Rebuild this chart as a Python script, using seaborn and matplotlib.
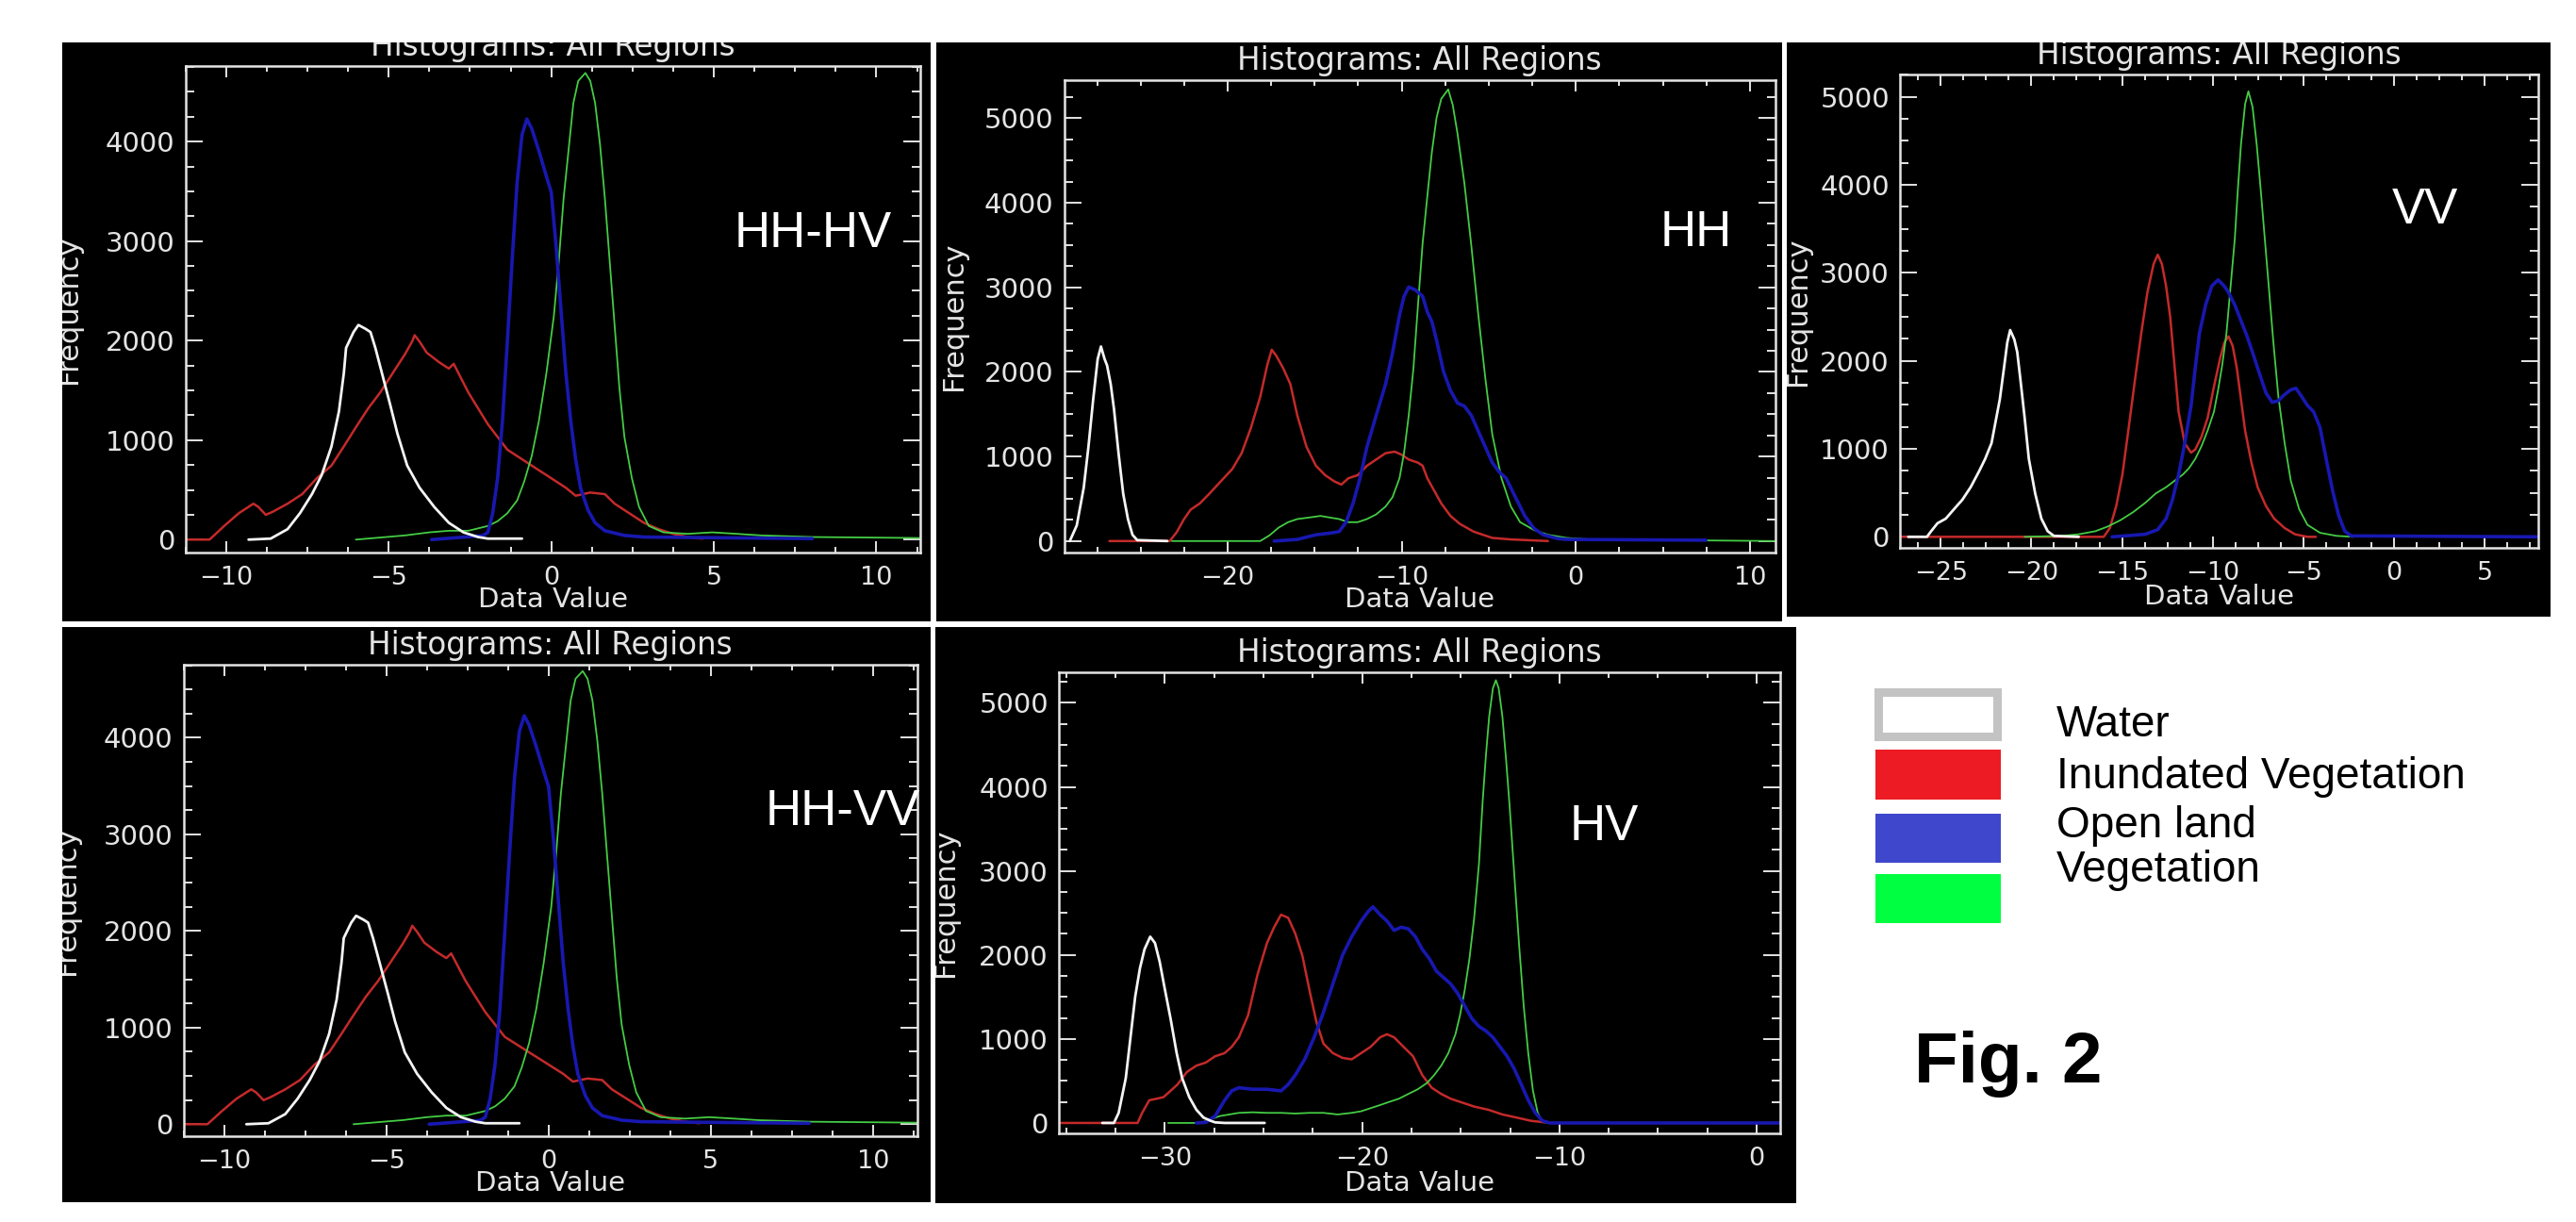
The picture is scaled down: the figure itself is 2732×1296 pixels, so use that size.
import matplotlib
matplotlib.use("Agg")
import matplotlib.pyplot as plt
from matplotlib.patches import Rectangle
from matplotlib.ticker import MultipleLocator, AutoMinorLocator
import seaborn as sns

# ---- values ----
classes = ["Water", "Inundated Vegetation", "Open land", "Vegetation"]
title_text = "Histograms: All Regions"

# HH-HV  (the HH-VV panel shows the very same histograms)
hhhv_water_x = [-9.31, -8.63, -8.11, -7.73, -7.36, -7.06, -6.76, -6.53, -6.38, -6.31, -6.08, -5.93, -5.71,
                -5.56, -5.41, -5.18, -4.95, -4.73, -4.43, -4.05, -3.60, -3.15, -2.70, -2.25, -1.95, -0.90]
hhhv_water_y = [0, 10, 105, 265, 457, 649, 936, 1288, 1671, 1927, 2086, 2157, 2118,
                2086, 1927, 1639, 1351, 1064, 744, 521, 329, 169, 73, 26, 10, 10]
hhhv_inund_x = [-11.25, -10.51, -10.06, -9.61, -9.16, -9.01, -8.78, -8.56, -8.11, -7.66, -7.21, -6.76, -6.38,
                -6.01, -5.63, -5.26, -4.88, -4.50, -4.28, -4.20, -4.05, -3.83, -3.45, -3.15, -3.00, -2.85,
                -2.55, -2.25, -1.95, -1.65, -1.35, -0.90, -0.45, 0.0, 0.45, 0.75, 1.20, 1.65, 1.95, 2.40,
                2.85, 3.30, 3.75, 4.20, 4.65]
hhhv_inund_y = [0, 0, 137, 265, 361, 329, 249, 281, 361, 457, 617, 744, 936,
                1128, 1319, 1479, 1671, 1863, 1990, 2054, 1990, 1879, 1783, 1719, 1767, 1671,
                1479, 1319, 1160, 1032, 904, 808, 712, 617, 521, 441, 473, 457, 361, 265,
                169, 105, 58, 26, 10]
hhhv_open_x = [-3.68, -2.10, -1.95, -1.80, -1.65, -1.50, -1.35, -1.20, -1.05, -0.90, -0.75, -0.60, -0.38,
               -0.15, 0.0, 0.15, 0.30, 0.45, 0.60, 0.75, 0.90, 1.13, 1.35, 1.65, 2.25, 2.85, 8.03]
hhhv_open_y = [0, 40, 73, 265, 617, 1192, 1990, 2821, 3588, 4067, 4227, 4131, 3907,
               3652, 3492, 2949, 2310, 1671, 1192, 808, 521, 297, 169, 89, 42, 26, 10]
hhhv_veg_x = [-6.01, -4.50, -3.75, -3.15, -2.55, -1.95, -1.65, -1.35, -1.05, -0.83, -0.60, -0.38, -0.15,
              0.08, 0.23, 0.38, 0.53, 0.68, 0.83, 1.05, 1.20, 1.35, 1.50, 1.65, 1.80, 1.95, 2.10, 2.25,
              2.48, 2.70, 3.00, 3.45, 4.20, 4.95, 5.71, 6.46, 8.03, 11.35]
hhhv_veg_y = [0, 42, 73, 89, 89, 137, 185, 265, 393, 585, 840, 1192, 1671,
              2246, 2789, 3428, 3907, 4387, 4610, 4690, 4610, 4387, 3971, 3428, 2789, 2150, 1511, 1032,
              617, 329, 137, 73, 58, 73, 58, 42, 26, 16]

# HH
hh_water_x = [-29.07, -28.67, -28.27, -28.0, -27.73, -27.47, -27.28, -27.07, -26.93, -26.72, -26.53,
              -26.27, -26.0, -25.73, -25.47, -25.2, -23.47]
hh_water_y = [0, 185, 631, 1113, 1669, 2151, 2300, 2151, 2077, 1855, 1558, 1039, 556, 260, 74, 11, 0]
hh_inund_x = [-26.8, -23.33, -22.93, -22.53, -22.13, -21.6, -21.07, -20.4, -19.73, -19.2, -18.67, -18.13,
              -17.73, -17.47, -17.2, -16.8, -16.4, -16.0, -15.47, -14.93, -14.4, -13.87, -13.47, -13.07,
              -12.53, -12.0, -11.47, -10.93, -10.4, -10.0, -9.6, -9.07, -8.8, -8.53, -8.13, -7.73, -7.2,
              -6.67, -5.87, -4.8, -3.73, -1.6]
hh_inund_y = [0, 0, 104, 252, 371, 445, 556, 705, 853, 1039, 1335, 1706,
              2077, 2263, 2188, 2040, 1855, 1484, 1113, 890, 779, 705, 668, 742,
              779, 890, 964, 1039, 1057, 1020, 964, 927, 890, 742, 593, 445, 297,
              204, 111, 37, 19, 0]
hh_open_x = [-17.33, -16.0, -14.93, -14.13, -13.6, -13.2, -12.8, -12.4, -12.0, -11.47, -10.93, -10.53,
             -10.13, -9.87, -9.6, -9.2, -8.8, -8.53, -8.27, -8.0, -7.6, -7.2, -6.8, -6.4, -6.0, -5.6,
             -5.2, -4.8, -4.4, -4.0, -3.47, -2.93, -2.4, -1.87, -1.07, -0.53, 7.47]
hh_open_y = [0, 19, 74, 93, 111, 223, 445, 742, 1113, 1484, 1855, 2226,
             2671, 2893, 3004, 2967, 2893, 2708, 2596, 2374, 2003, 1780, 1632, 1595, 1484, 1298,
             1113, 927, 816, 742, 519, 297, 148, 74, 30, 19, 10]
hh_veg_x = [-23.2, -18.13, -17.6, -17.07, -16.53, -16.0, -15.33, -14.67, -14.13, -13.6, -13.07, -12.53,
            -12.0, -11.47, -10.93, -10.53, -10.13, -9.87, -9.6, -9.33, -9.07, -8.8, -8.53, -8.27, -8.0,
            -7.73, -7.33, -7.07, -6.8, -6.4, -6.0, -5.6, -5.2, -4.8, -4.27, -3.73, -3.2, -2.4, -1.6,
            -0.53, 0.8, 11.47]
hh_veg_y = [0, 0, 67, 159, 223, 260, 278, 297, 278, 260, 223, 223,
            260, 315, 408, 519, 742, 1039, 1484, 2040, 2782, 3524, 4080, 4599, 5007,
            5230, 5341, 5156, 4822, 4228, 3487, 2671, 1929, 1261, 742, 408, 223, 130, 74,
            37, 19, 0]

# VV
vv_water_x = [-26.79, -25.76, -25.53, -25.18, -24.72, -24.27, -23.81, -23.35, -22.89, -22.55, -22.2,
              -21.97, -21.74, -21.51, -21.33, -21.17, -20.94, -20.78, -20.6, -20.37, -20.14, -19.79,
              -19.45, -19.1, -18.76, -17.39]
vv_water_y = [0, 0, 64, 154, 207, 314, 421, 564, 743, 886, 1064,
              1314, 1564, 1921, 2207, 2350, 2243, 2100, 1779, 1350, 886, 493,
              207, 64, 11, 0]
vv_inund_x = [-27.25, -16.01, -15.67, -15.32, -14.98, -14.63, -14.29, -13.94, -13.6, -13.26, -13.03,
              -12.8, -12.57, -12.34, -12.11, -11.88, -11.54, -11.19, -10.96, -10.62, -10.28, -9.93,
              -9.59, -9.36, -9.13, -8.9, -8.67, -8.44, -8.21, -7.87, -7.52, -7.06, -6.61, -6.03, -5.46,
              -4.77, -4.31]
vv_inund_y = [0, 0, 100, 350, 707, 1243, 1779, 2314, 2779, 3100, 3207,
              3100, 2850, 2493, 1957, 1421, 1064, 957, 993, 1136, 1350, 1707,
              2029, 2207, 2279, 2171, 1921, 1564, 1207, 850, 564, 350, 207, 100, 29,
              0, 0]
vv_open_x = [-15.55, -13.72, -13.03, -12.57, -12.22, -11.88, -11.54, -11.19, -10.96, -10.73, -10.39,
             -10.05, -9.7, -9.36, -9.13, -8.78, -8.44, -8.1, -7.75, -7.41, -7.06, -6.72, -6.38, -6.03,
             -5.69, -5.41, -5.11, -4.77, -4.43, -4.08, -3.74, -3.39, -3.05, -2.71, -2.36, 7.96]
vv_open_y = [0, 29, 82, 207, 421, 707, 1064, 1493, 1921, 2314, 2636,
             2850, 2921, 2850, 2779, 2636, 2457, 2279, 2064, 1850, 1636, 1529, 1546, 1618,
             1671, 1689, 1600, 1493, 1421, 1243, 886, 529, 243, 64, 11, 0]
vv_veg_x = [-20.37, -18.3, -17.39, -16.47, -15.78, -15.09, -14.4, -13.72, -13.14, -12.57, -12.11,
            -11.65, -11.31, -10.96, -10.62, -10.28, -9.93, -9.7, -9.47, -9.24, -9.01, -8.78, -8.62,
            -8.44, -8.21, -8.03, -7.8, -7.57, -7.34, -7.11, -6.88, -6.65, -6.38, -6.03, -5.69, -5.23,
            -4.77, -4.08, -3.17, -2.25]
vv_veg_y = [0, 11, 29, 64, 118, 189, 279, 386, 493, 564, 636,
            707, 779, 886, 1029, 1207, 1421, 1671, 1957, 2314, 2850, 3386, 3921,
            4457, 4921, 5064, 4886, 4457, 3921, 3350, 2779, 2207, 1600, 1064, 636, 314,
            136, 46, 11, 0]

# HV
hv_water_x = [-33.17, -32.58, -32.34, -31.98, -31.74, -31.5, -31.26, -31.03, -30.74, -30.5, -30.26,
              -30.02, -29.71, -29.4, -29.12, -28.76, -28.4, -28.04, -27.68, -27.45, -26.97, -24.94]
hv_water_y = [0, 0, 120, 532, 1019, 1506, 1843, 2067, 2217, 2142, 1918,
              1618, 1243, 831, 532, 307, 157, 64, 26, 7, 0, 0]
hv_inund_x = [-35.3, -31.38, -31.15, -30.79, -30.43, -30.07, -29.71, -29.36, -28.88, -28.4, -27.92,
              -27.45, -26.97, -26.61, -26.25, -25.78, -25.3, -24.82, -24.46, -24.11, -23.75, -23.39,
              -23.03, -22.67, -22.32, -21.96, -21.48, -21.0, -20.53, -20.05, -19.57, -19.09, -18.74,
              -18.38, -17.9, -17.42, -16.95, -16.47, -15.99, -15.51, -15.04, -14.32, -13.6, -12.89,
              -12.17, -11.46, -10.74, -10.5]
hv_inund_y = [0, 0, 120, 270, 288, 307, 382, 457, 607, 682, 719,
              794, 831, 906, 1019, 1281, 1768, 2142, 2330, 2479, 2442, 2255,
              1993, 1581, 1206, 944, 831, 775, 757, 831, 906, 1019, 1056,
              1019, 906, 794, 569, 419, 345, 288, 251, 195, 157, 101,
              64, 26, 7, 0]
hv_open_x = [-28.4, -27.92, -27.45, -26.97, -26.61, -26.25, -25.54, -24.82, -24.11, -23.75, -23.39,
             -22.91, -22.43, -21.96, -21.48, -21.0, -20.53, -20.05, -19.69, -19.45, -19.09, -18.74,
             -18.38, -18.02, -17.66, -17.3, -16.95, -16.59, -16.23, -15.87, -15.51, -15.16, -14.8,
             -14.44, -14.08, -13.72, -13.37, -13.01, -12.65, -12.29, -11.93, -11.58, -11.22, -10.86,
             -10.5, 1.19]
hv_open_y = [0, 7, 82, 270, 382, 419, 401, 401, 382, 457, 569,
             757, 1019, 1318, 1655, 1993, 2217, 2404, 2517, 2573, 2479, 2404,
             2292, 2330, 2311, 2217, 2067, 1955, 1805, 1730, 1655, 1543, 1393,
             1243, 1150, 1094, 1019, 906, 794, 644, 457, 270, 120, 26,
             0, 0]
hv_veg_x = [-29.83, -28.16, -27.68, -27.21, -26.73, -26.25, -25.54, -24.82, -24.11, -23.39, -22.67,
            -21.96, -21.24, -20.53, -20.05, -19.57, -19.09, -18.62, -18.14, -17.66, -17.18, -16.71,
            -16.35, -15.99, -15.63, -15.27, -15.04, -14.8, -14.56, -14.32, -14.08, -13.89, -13.72,
            -13.56, -13.37, -13.22, -13.08, -12.89, -12.7, -12.53, -12.29, -12.05, -11.81, -11.58,
            -11.34, -11.1, -10.86, -10.5]
hv_veg_y = [0, 0, 45, 82, 101, 120, 127, 120, 120, 112, 120,
            120, 101, 120, 139, 176, 213, 251, 288, 345, 401, 476,
            569, 682, 831, 1056, 1281, 1581, 1955, 2442, 3079, 3828, 4390,
            4839, 5176, 5270, 5176, 4839, 4315, 3790, 2966, 2142, 1393, 831,
            382, 120, 15, 0]

# ---- figure ----
W, H = 2732, 1296
sns.set_style("ticks")
plt.rcParams["font.family"] = ["DejaVu Sans"]

fig = plt.figure(figsize=(W / 100, H / 100), dpi=100, facecolor="white")

fg = "#e4e4e4"
line_col = {"Water": "#f4f4f4", "Inundated Vegetation": "#c42a2a",
            "Open land": "#1818b0", "Vegetation": "#44cc44"}
line_w = {"Water": 2.0, "Inundated Vegetation": 1.8, "Open land": 2.6, "Vegetation": 1.3}
draw_order = ["Inundated Vegetation", "Vegetation", "Open land", "Water"]


def fig_rect(x0, y0, x1, y1):
    # pixel box (y from top) -> figure fraction
    return (x0 / W, 1 - y1 / H, (x1 - x0) / W, (y1 - y0) / H)


def draw_panel(bg, box, xlim, ylim, xstep, curves, tag, tag_xy, ylab_off, xlab_off):
    r = fig_rect(*bg)
    back = Rectangle(r[:2], r[2], r[3], transform=fig.transFigure,
                     facecolor="black", edgecolor="none", zorder=-1)
    fig.add_artist(back)

    ax = fig.add_axes(fig_rect(*box))
    ax.set_facecolor("black")
    for name in draw_order:
        xs, ys = curves[name]
        sns.lineplot(x=xs, y=ys, ax=ax, color=line_col[name], linewidth=line_w[name],
                     estimator=None, sort=False)
    ax.set_xlim(*xlim)
    ax.set_ylim(*ylim)

    ax.xaxis.set_major_locator(MultipleLocator(xstep))
    ax.xaxis.set_minor_locator(AutoMinorLocator(4))
    ax.yaxis.set_major_locator(MultipleLocator(1000))
    ax.yaxis.set_minor_locator(AutoMinorLocator(4))
    ax.tick_params(which="both", direction="in", top=True, right=True, color=fg, width=1.4,
                   labelcolor=fg)
    ax.tick_params(axis="x", which="major", length=8.5, pad=10, labelsize=19.5)
    ax.tick_params(axis="x", which="minor", length=4.5)
    ax.tick_params(axis="y", which="major", length=13, pad=8, labelsize=21)
    ax.tick_params(axis="y", which="minor", length=6.5)
    for s in ax.spines.values():
        s.set_visible(True)
        s.set_color(fg)
        s.set_linewidth(1.8)

    w_px = box[2] - box[0]
    h_px = box[3] - box[1]
    t = ax.set_title(title_text, color=fg, fontsize=23.5, pad=8)
    t.set_clip_path(back)

    ax.set_xlabel("Data Value", color=fg, fontsize=21)
    ax.xaxis.set_label_coords(0.5, -xlab_off / h_px)
    ax.xaxis.label.set_va("baseline")

    ax.set_ylabel("Frequency", color=fg, fontsize=22)
    ax.yaxis.set_label_coords(-ylab_off / w_px, 0.5)
    ax.yaxis.label.set_va("center")
    ax.yaxis.label.set_clip_path(back)

    # polarisation tag, cap centre at tag_xy
    fig.text(tag_xy[0] / W, 1 - (tag_xy[1] + 19) / H, tag, color="white", fontsize=38,
             family="Liberation Sans", ha="center", va="baseline")
    return ax


def curve_set(wx, wy, ix, iy, ox, oy, vx, vy):
    return {"Water": (wx, wy), "Inundated Vegetation": (ix, iy),
            "Open land": (ox, oy), "Vegetation": (vx, vy)}


hhhv = curve_set(hhhv_water_x, hhhv_water_y, hhhv_inund_x, hhhv_inund_y,
                 hhhv_open_x, hhhv_open_y, hhhv_veg_x, hhhv_veg_y)
hh = curve_set(hh_water_x, hh_water_y, hh_inund_x, hh_inund_y, hh_open_x, hh_open_y, hh_veg_x, hh_veg_y)
vv = curve_set(vv_water_x, vv_water_y, vv_inund_x, vv_inund_y, vv_open_x, vv_open_y, vv_veg_x, vv_veg_y)
hv = curve_set(hv_water_x, hv_water_y, hv_inund_x, hv_inund_y, hv_open_x, hv_open_y, hv_veg_x, hv_veg_y)

draw_panel((66, 45, 987, 659), (196.7, 70, 976, 586), (-11.25, 11.35), (-130, 4760), 5,
           hhhv, "HH-HV", (862, 243), 124, 58)
draw_panel((993, 45, 1890, 659), (1128.5, 85, 1883, 586), (-29.4, 11.47), (-136, 5450), 10,
           hh, "HH", (1799, 242), 117, 58)
draw_panel((1895, 45, 2705, 654), (2015, 79, 2692, 581), (-27.25, 7.96), (-125, 5255), 5,
           vv, "VV", (2572, 218), 108, 60)
draw_panel((66, 665, 987, 1275), (194.5, 705, 972.6, 1205), (-11.25, 11.35), (-124, 4755), 5,
           hhhv, "HH-VV", (894, 856), 124, 58)
draw_panel((992, 665, 1905, 1276), (1123, 713, 1888, 1202), (-35.37, 1.19), (-124, 5364), 10,
           hv, "HV", (1701, 872), 121, 61)

# ---- legend block (separate, as in the figure) ----
legend_fill = ["white", "#ED1C24", "#3F48CC", "#00FF40"]
legend_boxes = [(1992, 733.5, 2118, 780.5), (1989, 795, 2122, 848),
                (1989, 863, 2122, 915), (1989, 927, 2122, 979)]
legend_baselines = [781, 836, 888, 935]
for i, name in enumerate(classes):
    x0, y0, x1, y1 = legend_boxes[i]
    r = fig_rect(x0, y0, x1, y1)
    if i == 0:
        patch = Rectangle(r[:2], r[2], r[3], transform=fig.transFigure,
                          facecolor="white", edgecolor="#C3C3C3", linewidth=6.5)
    else:
        patch = Rectangle(r[:2], r[2], r[3], transform=fig.transFigure,
                          facecolor=legend_fill[i], edgecolor="none")
    fig.add_artist(patch)
    fig.text(2181 / W, 1 - legend_baselines[i] / H, name, fontsize=33, family="Liberation Sans",
             color="black", ha="left", va="baseline")

fig.text(2030 / W, 1 - 1147.6 / H, "Fig. 2", fontsize=55, family="Liberation Sans",
         fontweight="bold", color="black", ha="left", va="baseline")

fig.savefig("out.png", dpi=100, facecolor="white")
